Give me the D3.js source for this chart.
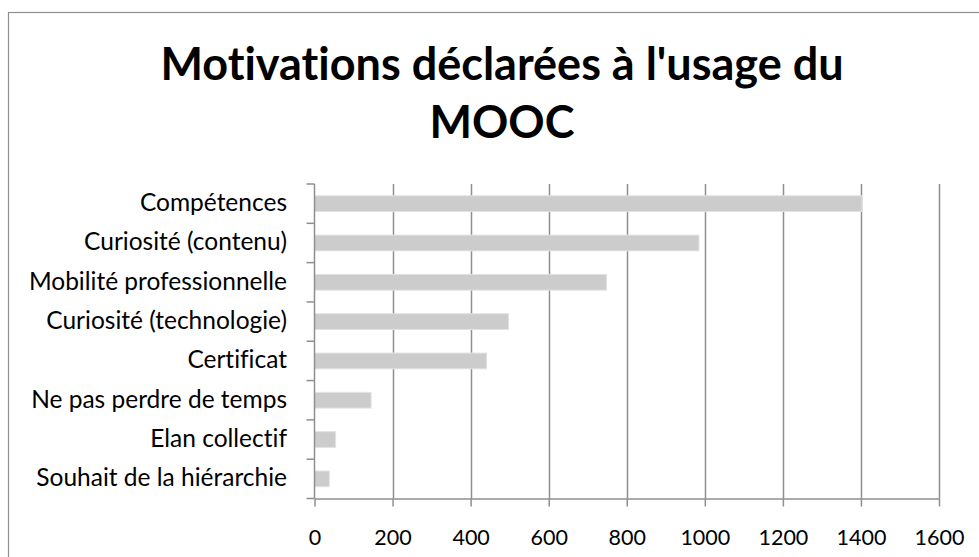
<!DOCTYPE html>
<html>
<head>
	<meta charset="utf-8">
	<title>Motivations MOOC</title>
	<script src="https://d3js.org/d3.v7.min.js"></script>
	<style>
		body { margin: 0; padding: 0; background: white; overflow: hidden; }
		text {
			font-family: Lato, Carlito, "Open Sans", sans-serif;
			fill: #000;
			font-variant-ligatures: none;
			font-feature-settings: "liga" 0;
		}
	</style>
</head>
<body>
	<script>
		// data
		var categories = ["Compétences", "Curiosité (contenu)", "Mobilité professionnelle",
			"Curiosité (technologie)", "Certificat", "Ne pas perdre de temps",
			"Elan collectif", "Souhait de la hiérarchie"];
		var values = [1403, 985, 748, 497, 441, 145, 54, 38];
		var xTicks = [0, 200, 400, 600, 800, 1000, 1200, 1400, 1600];
		var titleLines = ["Motivations déclarées à l'usage du", "MOOC"];

		var width = 979, height = 557;
		var plotLeft = 314.5, plotRight = 939, plotTop = 184, plotBottom = 498.5;
		var grey = "#8f8f8f";

		var svg = d3.select("body").append("svg")
			.attr("width", width)
			.attr("height", height);

		// chart frame (runs past the right and bottom edges)
		svg.append("rect")
			.attr("x", 8.5).attr("y", 12.5)
			.attr("width", 1000).attr("height", 600)
			.attr("fill", "white")
			.attr("stroke", grey).attr("stroke-width", 1.2);

		// title
		svg.append("g").selectAll("text")
			.data(titleLines)
			.enter().append("text")
			.attr("x", 502)
			.attr("y", (d, i) => 79.5 + i * 58)
			.attr("text-anchor", "middle")
			.style("font-size", "45px")
			.style("font-weight", "bold")
			.text((d) => d);

		var x = d3.scaleLinear().domain([0, 1600]).range([plotLeft, plotRight]);
		var y = d3.scaleBand().domain(categories).range([plotTop, plotBottom])
			.paddingInner(0.6).paddingOuter(0.3);

		// gridlines
		svg.append("g").selectAll("line")
			.data(xTicks.slice(1))
			.enter().append("line")
			.attr("x1", (d) => Math.round(x(d)) + 0.5)
			.attr("x2", (d) => Math.round(x(d)) + 0.5)
			.attr("y1", plotTop).attr("y2", plotBottom)
			.attr("stroke", grey).attr("stroke-width", 1.5);

		// bars
		svg.append("g").selectAll("rect")
			.data(values)
			.enter().append("rect")
			.attr("x", x(0))
			.attr("y", (d, i) => y(categories[i]))
			.attr("width", (d) => x(d) - x(0))
			.attr("height", y.bandwidth())
			.attr("fill", "#cccccc")
			.attr("stroke", "#e2e2e2").attr("stroke-width", 1);

		// x axis
		var xAxis = svg.append("g")
			.attr("transform", "translate(0," + plotBottom + ")")
			.call(d3.axisBottom(x).tickValues(xTicks).tickFormat(d3.format("d"))
				.tickSize(8).tickSizeOuter(0).tickPadding(23));
		xAxis.selectAll("line, path").attr("stroke", grey).attr("stroke-width", 1.5);
		xAxis.selectAll("text")
			.style("font-family", "Lato, Carlito, sans-serif")
			.style("font-size", "21.5px")
			.style("fill", "#000");

		// y axis with ticks between categories
		var yAxis = svg.append("g")
			.attr("transform", "translate(" + plotLeft + ",0)");
		yAxis.append("line")
			.attr("y1", plotTop).attr("y2", plotBottom)
			.attr("stroke", grey).attr("stroke-width", 1.5);
		yAxis.selectAll("line.tick")
			.data(d3.range(categories.length + 1))
			.enter().append("line")
			.attr("class", "tick")
			.attr("x1", -8).attr("x2", 0)
			.attr("y1", (i) => plotTop + i * y.step())
			.attr("y2", (i) => plotTop + i * y.step())
			.attr("stroke", grey).attr("stroke-width", 1.5);
		yAxis.selectAll("text")
			.data(categories)
			.enter().append("text")
			.attr("x", -27.5)
			.attr("y", (d) => y(d) + y.bandwidth() / 2)
			.attr("dy", "0.3em")
			.attr("text-anchor", "end")
			.style("font-size", "24.5px")
			.text((d) => d);
	</script>
</body>
</html>
